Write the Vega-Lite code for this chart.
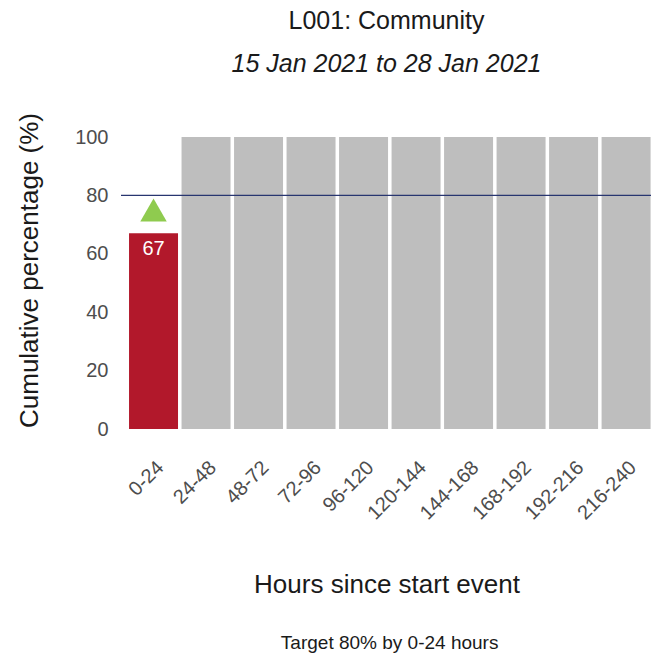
{
  "$schema": "https://vega.github.io/schema/vega-lite/v6.json",
  "padding": {"left": 16, "top": 9, "right": 0, "bottom": 5},
  "background": "white",
  "config": {
    "view": {"stroke": null},
    "font": "Liberation Sans"
  },
  "title": {
    "text": "Target 80% by 0-24 hours",
    "orient": "bottom",
    "anchor": "middle",
    "fontSize": 19,
    "fontWeight": "normal",
    "font": "Liberation Sans",
    "color": "#1a1a1a",
    "dx": 55,
    "offset": 37
  },
  "datasets": {
    "bars": [
      {"hours": "0-24", "pct": 67, "group": "current"},
      {"hours": "24-48", "pct": 100, "group": "other"},
      {"hours": "48-72", "pct": 100, "group": "other"},
      {"hours": "72-96", "pct": 100, "group": "other"},
      {"hours": "96-120", "pct": 100, "group": "other"},
      {"hours": "120-144", "pct": 100, "group": "other"},
      {"hours": "144-168", "pct": 100, "group": "other"},
      {"hours": "168-192", "pct": 100, "group": "other"},
      {"hours": "192-216", "pct": 100, "group": "other"},
      {"hours": "216-240", "pct": 100, "group": "other"}
    ],
    "target": [{"target": 80}],
    "marker": [{"hours": "0-24", "marker": 75}]
  },
  "vconcat": [
    {
      "width": 531,
      "height": 292,
      "title": {
        "text": "L001: Community",
        "subtitle": "15 Jan 2021 to 28 Jan 2021",
        "anchor": "middle",
        "frame": "group",
        "fontSize": 25,
        "fontWeight": "normal",
        "font": "Liberation Sans",
        "color": "#1a1a1a",
        "subtitleFontSize": 25,
        "subtitleFontStyle": "italic",
        "subtitleFont": "Liberation Sans",
        "subtitleColor": "#1a1a1a",
        "subtitlePadding": 18,
        "offset": 35
      },
      "layer": [
        {
          "data": {"name": "bars"},
          "mark": {"type": "bar"},
          "encoding": {
            "x": {
              "field": "hours",
              "type": "nominal",
              "sort": null,
              "scale": {"paddingInner": 0.067, "paddingOuter": 0.09, "align": 0.85},
              "axis": {
                "title": "Hours since start event",
                "labelAngle": -45,
                "labelFontSize": 20,
                "labelColor": "#4d4d4d",
                "labelPadding": 28,
                "ticks": false,
                "domain": false,
                "titleFontSize": 26,
                "titleFontWeight": "normal",
                "titleColor": "#1a1a1a",
                "titlePadding": 48
              }
            },
            "y": {
              "field": "pct",
              "type": "quantitative",
              "scale": {"domain": [0, 100]},
              "axis": {
                "title": "Cumulative percentage (%)",
                "values": [0, 20, 40, 60, 80, 100],
                "labelFontSize": 20,
                "labelColor": "#4d4d4d",
                "labelPadding": 13,
                "ticks": false,
                "domain": false,
                "grid": false,
                "titleFontSize": 26,
                "titleFontWeight": "normal",
                "titleColor": "#1a1a1a",
                "titlePadding": 32,
                "titleY": 133
              }
            },
            "color": {
              "field": "group",
              "type": "nominal",
              "scale": {"domain": ["current", "other"], "range": ["#B2182B", "#BEBEBE"]},
              "legend": null
            }
          }
        },
        {
          "data": {"name": "target"},
          "mark": {"type": "rule", "color": "#283670", "strokeWidth": 1.3},
          "encoding": {
            "y": {"field": "target", "type": "quantitative"}
          }
        },
        {
          "data": {"name": "marker"},
          "mark": {"type": "point", "shape": "triangle-up", "filled": true, "color": "#8FCB4F", "size": 700, "opacity": 1},
          "encoding": {
            "x": {"field": "hours", "type": "nominal", "sort": null},
            "y": {"field": "marker", "type": "quantitative"}
          }
        },
        {
          "data": {"name": "bars"},
          "transform": [{"filter": "datum.group === 'current'"}],
          "mark": {"type": "text", "baseline": "top", "dy": 6, "color": "white", "fontSize": 20},
          "encoding": {
            "x": {"field": "hours", "type": "nominal", "sort": null},
            "y": {"field": "pct", "type": "quantitative"},
            "text": {"field": "pct", "type": "quantitative"}
          }
        }
      ]
    }
  ]
}
